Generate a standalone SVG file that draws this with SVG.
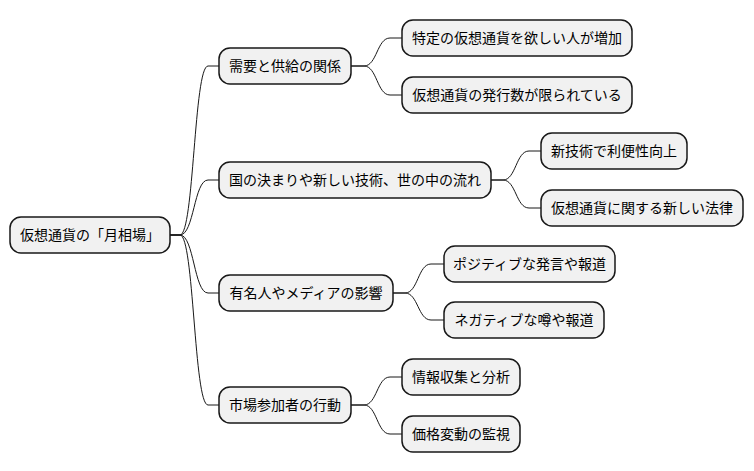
<svg xmlns="http://www.w3.org/2000/svg" width="754" height="471" viewBox="0 0 754 471">
<style>
.n rect{fill:#F1F1F1;stroke:#181818;stroke-width:1.5}
.n text{font-family:"Noto Sans CJK JP","Noto Sans",sans-serif;font-size:14px;fill:#000;text-anchor:middle}
#edges path{fill:none;stroke:#181818;stroke-width:1}
</style>
<rect width="754" height="471" fill="#FFFFFF"/>
<g id="edges">
<path d="M170 235 H180 C194 235 194 66 208 66 H219"/>
<path d="M170 235 H180 C194 235 194 180 208 180 H219"/>
<path d="M170 235 H180 C194 235 194 293 208 293 H219"/>
<path d="M170 235 H180 C194 235 194 405 208 405 H219"/>
<path d="M351 66 H364 C377 66 377 38 390 38 H402"/>
<path d="M351 66 H364 C377 66 377 95 390 95 H402"/>
<path d="M491 180 H503 C516 180 516 151 529 151 H541"/>
<path d="M491 180 H503 C516 180 516 208 529 208 H541"/>
<path d="M393 293 H405 C418 293 418 264 431 264 H444"/>
<path d="M393 293 H405 C418 293 418 320 431 320 H444"/>
<path d="M351 405 H364 C377 405 377 377 390 377 H402"/>
<path d="M351 405 H364 C377 405 377 434 390 434 H402"/>
</g>
<g id="root" class="n"><rect x="10" y="217" width="160" height="36" rx="11"/><text x="90" y="240">仮想通貨の「月相場」</text></g>
<g id="n1" class="n"><rect x="219" y="48" width="132" height="36" rx="11"/><text x="285" y="71">需要と供給の関係</text></g>
<g id="n1a" class="n"><rect x="402" y="20" width="230" height="36" rx="11"/><text x="517" y="43">特定の仮想通貨を欲しい人が増加</text></g>
<g id="n1b" class="n"><rect x="402" y="77" width="230" height="36" rx="11"/><text x="517" y="100">仮想通貨の発行数が限られている</text></g>
<g id="n2" class="n"><rect x="219" y="162" width="272" height="36" rx="11"/><text x="355" y="185">国の決まりや新しい技術、世の中の流れ</text></g>
<g id="n2a" class="n"><rect x="541" y="133" width="146" height="36" rx="11"/><text x="614" y="156">新技術で利便性向上</text></g>
<g id="n2b" class="n"><rect x="541" y="190" width="202" height="36" rx="11"/><text x="642" y="213">仮想通貨に関する新しい法律</text></g>
<g id="n3" class="n"><rect x="219" y="275" width="174" height="36" rx="11"/><text x="306" y="298">有名人やメディアの影響</text></g>
<g id="n3a" class="n"><rect x="444" y="246" width="171" height="36" rx="11"/><text x="529.5" y="269">ポジティブな発言や報道</text></g>
<g id="n3b" class="n"><rect x="444" y="302" width="160" height="36" rx="11"/><text x="524" y="325">ネガティブな噂や報道</text></g>
<g id="n4" class="n"><rect x="219" y="387" width="132" height="36" rx="11"/><text x="285" y="410">市場参加者の行動</text></g>
<g id="n4a" class="n"><rect x="402" y="359" width="118" height="36" rx="11"/><text x="461" y="382">情報収集と分析</text></g>
<g id="n4b" class="n"><rect x="402" y="416" width="118" height="36" rx="11"/><text x="461" y="439">価格変動の監視</text></g>
</svg>
